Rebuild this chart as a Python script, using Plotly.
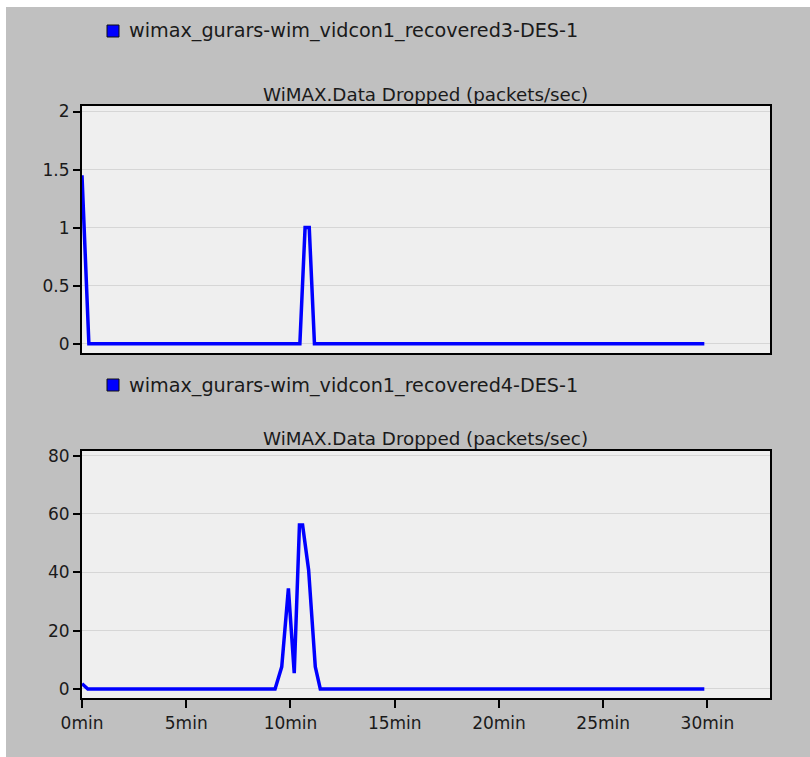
import plotly.graph_objects as go

# ---- data (minutes, packets/sec) ----
series1_name = "wimax_gurars-wim_vidcon1_recovered3-DES-1"
series1_t = [0.0, 0.33, 10.45, 10.7, 10.9, 11.15, 29.85]
series1_v = [1.45, 0.0, 0.0, 1.0, 1.0, 0.0, 0.0]

series2_name = "wimax_gurars-wim_vidcon1_recovered4-DES-1"
series2_t = [0.0, 0.28, 9.26, 9.58, 9.9, 10.18, 10.43, 10.58, 10.87, 11.19, 11.43, 29.85]
series2_v = [1.8, 0.0, 0.0, 7.6, 34.5, 5.4, 56.2, 56.2, 40.8, 7.6, 0.0, 0.0]

chart_title = "WiMAX.Data Dropped (packets/sec)"
x_tick_vals = [0, 5, 10, 15, 20, 25, 30]
x_tick_text = ["0min", "5min", "10min", "15min", "20min", "25min", "30min"]
y1_ticks = [0, 0.5, 1, 1.5, 2]
y1_text = ["0", "0.5", "1", "1.5", "2"]
y2_ticks = [0, 20, 40, 60, 80]

W, H = 810, 757
FONT = "DejaVu Sans"
BLUE = "#0000ff"
TXT = "#1a1a1a"

def px_x(p):
    return p / W

def px_y(p):
    return 1 - p / H

fig = go.Figure()
fig.add_trace(go.Scatter(x=series1_t, y=series1_v, mode="lines", name=series1_name,
                         line=dict(color=BLUE, width=3.5), xaxis="x", yaxis="y", showlegend=False))
fig.add_trace(go.Scatter(x=series2_t, y=series2_v, mode="lines", name=series2_name,
                         line=dict(color=BLUE, width=3.5), xaxis="x2", yaxis="y2", showlegend=False))

xdom = [px_x(82), px_x(770)]
common_x = dict(range=[0, 33], domain=xdom, showgrid=False, zeroline=False, automargin=False,
                showline=True, linecolor="#000000", linewidth=2, mirror=True,
                tickfont=dict(family=FONT, size=17, color=TXT))
common_y = dict(showgrid=True, gridcolor="#d6d6d6", gridwidth=1.2, zeroline=False, automargin=False,
                showline=True, linecolor="#000000", linewidth=2, mirror=True,
                ticks="outside", ticklen=7, tickcolor="#000000", tickwidth=1.5,
                tickfont=dict(family=FONT, size=17, color=TXT))

fig.update_layout(
    template="none",
    width=W, height=H, autosize=False,
    margin=dict(l=0, r=0, t=0, b=0, pad=0),
    paper_bgcolor="#c0c0c0",
    plot_bgcolor="#efefef",
    xaxis=dict(common_x, anchor="y", showticklabels=False, ticks=""),
    yaxis=dict(common_y, domain=[px_y(353), px_y(105.7)], range=[-0.08, 2.05],
               tickvals=y1_ticks, ticktext=y1_text, anchor="x"),
    xaxis2=dict(common_x, anchor="y2", tickvals=x_tick_vals, ticktext=x_tick_text,
                ticks="outside", ticklen=8, tickcolor="#000000", tickwidth=1.5),
    yaxis2=dict(common_y, domain=[px_y(698.3), px_y(451)], range=[-3.2, 81.6],
                tickvals=y2_ticks, anchor="x2"),
    shapes=[
        dict(type="rect", xref="paper", yref="paper", x0=0, x1=1, y0=px_y(7), y1=1,
             fillcolor="#ffffff", line=dict(width=0)),
        dict(type="rect", xref="paper", yref="paper", x0=0, x1=px_x(6), y0=0, y1=1,
             fillcolor="#ffffff", line=dict(width=0)),
        dict(type="rect", xref="paper", yref="paper", x0=px_x(107), x1=px_x(119),
             y0=px_y(37), y1=px_y(25), fillcolor=BLUE, line=dict(color="#101010", width=1)),
        dict(type="rect", xref="paper", yref="paper", x0=px_x(107), x1=px_x(119),
             y0=px_y(391), y1=px_y(379), fillcolor=BLUE, line=dict(color="#101010", width=1)),
    ],
    annotations=[
        dict(text=series1_name, xref="paper", yref="paper", x=px_x(127), y=px_y(31),
             xanchor="left", yanchor="middle", showarrow=False,
             font=dict(family=FONT, size=19.2, color=TXT)),
        dict(text=series2_name, xref="paper", yref="paper", x=px_x(127), y=px_y(385),
             xanchor="left", yanchor="middle", showarrow=False,
             font=dict(family=FONT, size=19.2, color=TXT)),
        dict(text=chart_title, xref="paper", yref="paper", x=px_x(425), y=px_y(94),
             xanchor="center", yanchor="middle", showarrow=False,
             font=dict(family=FONT, size=18.3, color=TXT)),
        dict(text=chart_title, xref="paper", yref="paper", x=px_x(425), y=px_y(438),
             xanchor="center", yanchor="middle", showarrow=False,
             font=dict(family=FONT, size=18.3, color=TXT)),
    ],
)

fig.write_html("out.html", config={"displayModeBar": False},
               post_script="document.body.style.margin='0';document.body.style.padding='0';")
